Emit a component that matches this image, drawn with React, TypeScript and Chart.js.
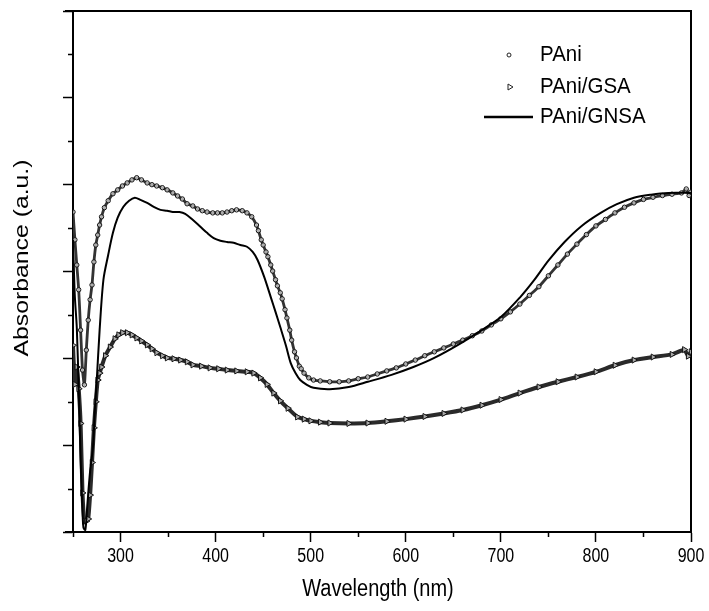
import React, { useEffect, useRef } from 'react';
import { Chart, registerables } from 'chart.js';

Chart.register(...registerables);

// ---- data ----
const xMajorTicks = [300, 400, 500, 600, 700, 800, 900];
const xMinorTicks = [250, 350, 450, 550, 650, 750, 850];
const yMajorTicks = [0, 0.2, 0.4, 0.6, 0.8, 1.0, 1.2];
const yMinorTicks = [0.1, 0.3, 0.5, 0.7, 0.9, 1.1];

const seriesLabels = ['PAni', 'PAni/GSA', 'PAni/GNSA'];
const xTitle = 'Wavelength (nm)';
const yTitle = 'Absorbance (a.u.)';

const paniWavelength = [
  250, 252, 254, 256, 258, 260, 262, 264, 266, 268, 270, 272, 274, 276, 278, 280, 283, 287, 292, 297,
  302, 307, 312, 317, 322, 328, 333, 338, 344, 349, 355, 360, 365, 370, 376, 381, 386, 391, 397, 402,
  407, 412, 417, 422, 428, 433, 438, 443, 445, 448, 450, 453, 455, 458, 460, 463, 465, 468, 470, 473,
  475, 478, 480, 483, 485, 488, 490, 493, 498, 503, 510, 520, 530, 540, 550, 560, 570, 580, 590, 600,
  610, 620, 630, 640, 650, 660, 670, 680, 690, 700, 710, 720, 730, 740, 750, 760, 770, 780, 790, 800,
  810, 820, 830, 840, 850, 860, 870, 880, 890, 895, 898, 900,
];
const paniAbs = [
  0.737, 0.673, 0.615, 0.558, 0.465, 0.373, 0.339, 0.419, 0.488, 0.535, 0.569, 0.622, 0.661, 0.684, 0.707, 0.726, 0.747, 0.763, 0.779, 0.788,
  0.797, 0.804, 0.811, 0.816, 0.811, 0.804, 0.800, 0.797, 0.793, 0.788, 0.781, 0.774, 0.767, 0.756, 0.751, 0.744, 0.740, 0.737, 0.735, 0.735,
  0.735, 0.737, 0.740, 0.742, 0.740, 0.735, 0.726, 0.707, 0.694, 0.673, 0.661, 0.645, 0.634, 0.615, 0.601, 0.581, 0.567, 0.551, 0.537, 0.512,
  0.493, 0.465, 0.442, 0.415, 0.401, 0.382, 0.376, 0.366, 0.355, 0.350, 0.348, 0.346, 0.346, 0.348, 0.353, 0.357, 0.364, 0.371, 0.378, 0.387,
  0.396, 0.406, 0.415, 0.424, 0.433, 0.442, 0.452, 0.463, 0.477, 0.491, 0.507, 0.525, 0.545, 0.565, 0.590, 0.615, 0.640, 0.663, 0.685, 0.705,
  0.720, 0.735, 0.748, 0.758, 0.766, 0.771, 0.775, 0.778, 0.781, 0.790, 0.775, 0.783,
];

const gsaWavelength = [
  250, 252, 254, 256, 258, 260, 262, 264, 266, 268, 270, 272, 274, 276, 278, 280, 284, 289, 294, 298,
  302, 307, 312, 317, 322, 328, 333, 338, 344, 349, 356, 363, 370, 376, 385, 394, 403, 412, 422, 433,
  440, 447, 454, 461, 468, 476, 486, 493, 500, 510, 520, 540, 560, 580, 600, 620, 640, 660, 680, 700,
  720, 740, 760, 780, 800, 820, 840, 860, 880, 893, 897, 900,
];
const gsaAbs = [
  0.430, 0.340, 0.380, 0.330, 0.250, 0.090, 0.025, 0.025, 0.030, 0.085, 0.160, 0.240, 0.300, 0.350, 0.366, 0.380, 0.406, 0.426, 0.445, 0.454,
  0.459, 0.459, 0.454, 0.447, 0.440, 0.431, 0.422, 0.413, 0.406, 0.401, 0.399, 0.396, 0.392, 0.385, 0.382, 0.378, 0.376, 0.373, 0.371, 0.369,
  0.366, 0.355, 0.340, 0.320, 0.302, 0.285, 0.265, 0.260, 0.256, 0.253, 0.251, 0.250, 0.251, 0.255, 0.260, 0.266, 0.273, 0.281, 0.292, 0.305,
  0.320, 0.334, 0.346, 0.357, 0.369, 0.384, 0.396, 0.403, 0.409, 0.420, 0.405, 0.415,
];

const gnsaWavelength = [
  250, 251, 252, 254, 256, 258, 260, 261, 263, 265, 268, 271, 273, 275, 278, 282, 287, 292, 297, 303,
  309, 315, 321, 328, 335, 342, 349, 355, 362, 368, 375, 384, 391, 398, 405, 412, 419, 426, 433, 439,
  444, 451, 458, 463, 468, 474, 479, 484, 489, 496, 503, 520, 540, 560, 585, 608, 630, 655, 680, 700,
  720, 735, 750, 767, 785, 805, 822, 840, 858, 876, 900,
];
const gnsaAbs = [
  0.673, 0.600, 0.540, 0.470, 0.330, 0.170, 0.050, 0.010, 0.005, 0.060, 0.140, 0.196, 0.281, 0.350, 0.465, 0.581, 0.638, 0.689, 0.724, 0.749,
  0.763, 0.770, 0.765, 0.758, 0.749, 0.742, 0.740, 0.737, 0.737, 0.733, 0.721, 0.703, 0.689, 0.677, 0.671, 0.668, 0.666, 0.661, 0.657, 0.645,
  0.627, 0.588, 0.541, 0.507, 0.472, 0.429, 0.389, 0.366, 0.350, 0.339, 0.332, 0.329, 0.334, 0.346, 0.362, 0.380, 0.401, 0.431, 0.465, 0.495,
  0.540, 0.580, 0.625, 0.668, 0.705, 0.735, 0.755, 0.770, 0.777, 0.781, 0.781,
];

const FONT = '"Liberation Sans", Arial, Helvetica, sans-serif';

function stretchedText(
  ctx: CanvasRenderingContext2D,
  text: string,
  x: number,
  y: number,
  size: number,
  align: CanvasTextAlign,
  stretch: number,
  rotate = 0,
) {
  ctx.save();
  ctx.translate(x, y);
  if (rotate) {
    ctx.rotate(rotate);
    ctx.scale(stretch, 1);
  } else {
    ctx.scale(1, stretch);
  }
  ctx.font = `${size}px ${FONT}`;
  ctx.fillStyle = '#000';
  ctx.textAlign = align;
  ctx.textBaseline = 'middle';
  ctx.fillText(text, 0, 0);
  ctx.restore();
}

const decorPlugin = {
  id: 'decor',
  afterDraw(chart: any) {
    const ctx: CanvasRenderingContext2D = chart.ctx;
    const xs = chart.scales.x;
    const ys = chart.scales.y;
    const area = chart.chartArea;
    ctx.save();
    ctx.strokeStyle = '#000';
    ctx.lineWidth = 1.5;
    // minor ticks
    ctx.beginPath();
    xMinorTicks.forEach((v) => {
      const px = Math.round(xs.getPixelForValue(v)) + 0.5;
      ctx.moveTo(px, area.bottom);
      ctx.lineTo(px, area.bottom + 5);
    });
    yMinorTicks.forEach((v) => {
      const py = Math.round(ys.getPixelForValue(v)) + 0.5;
      ctx.moveTo(area.left, py);
      ctx.lineTo(area.left - 5, py);
    });
    ctx.stroke();
    // axis line extensions on the left
    ctx.lineWidth = 2;
    ctx.beginPath();
    ctx.moveTo(area.left - 8, area.top);
    ctx.lineTo(area.left, area.top);
    ctx.moveTo(area.left - 8, area.bottom);
    ctx.lineTo(area.left, area.bottom);
    ctx.stroke();
    ctx.restore();

    // tick labels
    xMajorTicks.forEach((v) => {
      stretchedText(ctx, String(v), xs.getPixelForValue(v), 556, 16, 'center', 1.25);
    });
    // titles
    stretchedText(ctx, xTitle, (area.left + area.right) / 2 - 4, 590, 20, 'center', 1.15);
    stretchedText(ctx, yTitle, 22, 258, 21, 'center', 1.18, -Math.PI / 2);

    // legend
    const rows = [55, 87, 117];
    const textX = 540;
    ctx.save();
    ctx.strokeStyle = '#222';
    ctx.lineWidth = 1;
    ctx.beginPath();
    ctx.arc(509, rows[0], 2, 0, Math.PI * 2);
    ctx.stroke();
    ctx.beginPath();
    ctx.moveTo(508, rows[1] - 3);
    ctx.lineTo(513, rows[1]);
    ctx.lineTo(508, rows[1] + 3);
    ctx.closePath();
    ctx.stroke();
    ctx.strokeStyle = '#000';
    ctx.lineWidth = 2.5;
    ctx.beginPath();
    ctx.moveTo(484, rows[2]);
    ctx.lineTo(533, rows[2]);
    ctx.stroke();
    ctx.restore();
    seriesLabels.forEach((t, i) => {
      stretchedText(ctx, t, textX, rows[i], 20.5, 'left', 1.1);
    });
  },
};

const pts = (xs: number[], ys: number[]) => xs.map((x, i) => ({ x, y: ys[i] }));

export default function App() {
  const ref = useRef<HTMLCanvasElement | null>(null);
  useEffect(() => {
    if (!ref.current) return;
    const W = 709;
    const H = 611;
    const left = 73;
    const right = 691;
    const top = 11;
    const bottom = 532;
    const chart = new Chart(ref.current, {
      type: 'scatter',
      data: {
        datasets: [
          {
            label: seriesLabels[2],
            data: pts(gnsaWavelength, gnsaAbs),
            showLine: true,
            borderColor: '#000',
            borderWidth: 2,
            pointRadius: 0,
            tension: 0.3,
            order: 0,
          },
          {
            label: seriesLabels[0],
            data: pts(paniWavelength, paniAbs),
            showLine: true,
            borderColor: '#333',
            borderWidth: 2.8,
            tension: 0.2,
            pointStyle: 'circle',
            pointRadius: 2.2,
            pointBorderWidth: 1,
            pointBorderColor: '#111',
            pointBackgroundColor: 'rgba(255,255,255,0.6)',
            order: 1,
          },
          {
            label: seriesLabels[1],
            data: pts(gsaWavelength, gsaAbs),
            showLine: true,
            borderColor: '#2a2a2a',
            borderWidth: 4,
            tension: 0.2,
            pointStyle: 'triangle',
            rotation: 90,
            pointRadius: 3.5,
            pointBorderWidth: 1,
            pointBorderColor: '#111',
            pointBackgroundColor: 'rgba(255,255,255,0.6)',
            order: 2,
          },
        ],
      },
      options: {
        responsive: false,
        animation: false,
        events: [],
        layout: { padding: 0 },
        plugins: { legend: { display: false }, tooltip: { enabled: false } },
        scales: {
          x: {
            type: 'linear',
            position: 'bottom',
            min: 250,
            max: 900,
            afterBuildTicks: (s: any) => {
              s.ticks = xMajorTicks.map((v) => ({ value: v }));
            },
            ticks: { display: false },
            grid: { drawOnChartArea: false, color: '#000', tickLength: 10, tickWidth: 1.5 },
            border: { color: '#000', width: 2 },
            afterFit: (s: any) => {
              s.height = H - bottom;
            },
          },
          xTop: {
            type: 'linear',
            position: 'top',
            min: 250,
            max: 900,
            ticks: { display: false },
            grid: { drawOnChartArea: false, drawTicks: false },
            border: { color: '#000', width: 2 },
            afterFit: (s: any) => {
              s.height = top;
            },
          },
          y: {
            type: 'linear',
            position: 'left',
            min: 0,
            max: 1.2,
            afterBuildTicks: (s: any) => {
              s.ticks = yMajorTicks.map((v) => ({ value: v }));
            },
            ticks: { display: false },
            grid: { drawOnChartArea: false, color: '#000', tickLength: 10, tickWidth: 1.5 },
            border: { color: '#000', width: 2 },
            afterFit: (s: any) => {
              s.width = left;
            },
          },
          yRight: {
            type: 'linear',
            position: 'right',
            min: 0,
            max: 1.2,
            ticks: { display: false },
            grid: { drawOnChartArea: false, drawTicks: false },
            border: { color: '#000', width: 2 },
            afterFit: (s: any) => {
              s.width = W - right;
            },
          },
        },
      } as any,
      plugins: [decorPlugin],
    });
    return () => chart.destroy();
  }, []);
  return (
    <div style={{ position: 'absolute', left: 0, top: 0, width: 709, height: 611, background: '#fff' }}>
      <canvas ref={ref} width={709} height={611} style={{ display: 'block' }} />
    </div>
  );
}
